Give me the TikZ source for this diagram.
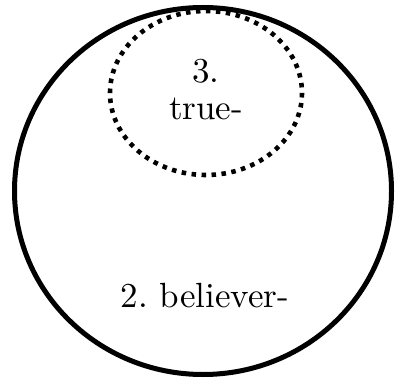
\documentclass[tikz,border=0pt]{standalone}
\usepackage{fontspec}
\setmainfont{lmroman10-regular.otf}
\usepackage{tikz}
\usetikzlibrary{positioning}

\begin{document}
\begin{tikzpicture}[
    x=1pt, y=-1pt,
    outerset/.style={draw=black, line width=5pt},
    innerset/.style={draw=black, line width=4.6pt, dash pattern=on 4.5pt off 5.5pt},
    setlabel/.style={anchor=base, font=\fontsize{35}{40}\selectfont, inner sep=0pt}
]
    \useasboundingbox (0,0) rectangle (395,379);

    \draw[outerset] (203,191) ellipse [x radius=188.5, y radius=183.5];
    \draw[innerset] (206,93) ellipse [x radius=96, y radius=82];

    \node[setlabel] (num)      at (206,83)  {3.};
    \node[setlabel] (true)     at (206,120) {true-};
    \node[setlabel] (believer) at (205,307) {2.\ believer-};
\end{tikzpicture}
\end{document}
